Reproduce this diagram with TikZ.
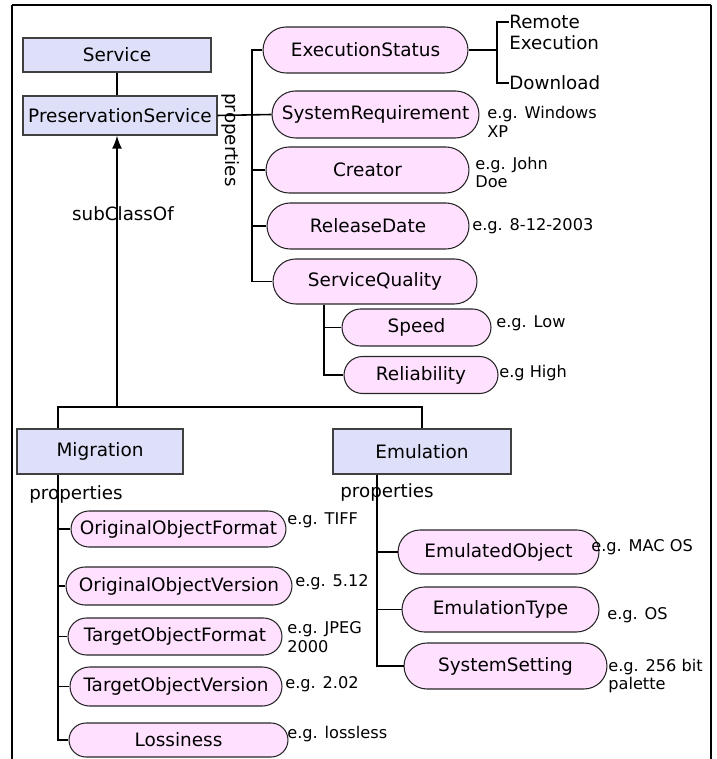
\documentclass[tikz,border=0pt]{standalone}
\usepackage{fontspec}
\setmainfont{DejaVu Sans}
\usetikzlibrary{shapes.misc,arrows.meta}

\definecolor{classfill}{RGB}{222,224,250}
\definecolor{propfill}{RGB}{255,224,255}

\tikzset{
	class/.style={shape=rectangle, draw=black!75, fill=classfill, line width=0.6pt, inner sep=0pt, font=\fontsize{10.5}{12.6}\selectfont},
	prop/.style={shape=rounded rectangle, draw=black!85, fill=propfill, line width=0.6pt, inner sep=0pt, font=\fontsize{10.5}{12.6}\selectfont},
	note/.style={inner sep=0pt, align=left, font=\fontsize{10.4}{12.2}\selectfont},
	eg/.style={anchor=west, inner sep=0pt, align=left, font=\fontsize{9.2}{10.4}\selectfont},
	link/.style={line width=0.9pt},
}

\begin{document}
\begin{tikzpicture}[x=0.02cm, y=-0.02cm]

	\useasboundingbox (0, 0) rectangle (716, 759);
	\draw[line width=1.4pt] (12, 5) -- (711, 5);
	\draw[line width=0.9pt] (12, 759) -- (12, 5) (711, 5) -- (711, 759);

	\node[class, minimum width=3.76cm, minimum height=0.68cm] (svc)  at (117, 55)    {Service};
	\node[class, minimum width=3.88cm, minimum height=0.78cm] (pres) at (120, 115.5) {PreservationService};
	\node[class, minimum width=3.32cm, minimum height=0.9cm]  (mig)  at (100, 451.5) {Migration};
	\node[class, minimum width=3.56cm, minimum height=0.9cm]  (emu)  at (422, 451.5) {Emulation};

	\node[prop, minimum width=4.1cm,  minimum height=0.92cm] (exec)    at (365.5, 50)  {ExecutionStatus};
	\node[prop, minimum width=4.14cm, minimum height=0.94cm] (sysreq)  at (375.5, 114.5) {SystemRequirement};
	\node[prop, minimum width=4.06cm, minimum height=0.92cm] (creator) at (367.5, 170) {Creator};
	\node[prop, minimum width=4.04cm, minimum height=0.92cm] (reldate) at (368, 226)   {ReleaseDate};
	\node[prop, minimum width=4.08cm, minimum height=0.9cm]  (quality) at (375, 281.5) {ServiceQuality};
	\node[prop, minimum width=2.98cm, minimum height=0.74cm] (speed)   at (416.5, 327.5) {Speed};
	\node[prop, minimum width=3.08cm, minimum height=0.74cm] (reliab)  at (421, 375)   {Reliability};

	\node[prop, minimum width=4.3cm,  minimum height=0.72cm] (origfmt) at (178.5, 529) {OriginalObjectFormat};
	\node[prop, minimum width=4.52cm, minimum height=0.76cm] (origver) at (179, 586)   {OriginalObjectVersion};
	\node[prop, minimum width=4.28cm, minimum height=0.74cm] (tgtfmt)  at (175, 636.5) {TargetObjectFormat};
	\node[prop, minimum width=4.24cm, minimum height=0.78cm] (tgtver)  at (176, 686.5) {TargetObjectVersion};
	\node[prop, minimum width=4.38cm, minimum height=0.68cm] (loss)    at (178.5, 740) {Lossiness};

	\node[prop, minimum width=4.02cm, minimum height=0.88cm] (emuobj)  at (498.5, 552) {EmulatedObject};
	\node[prop, minimum width=3.94cm, minimum height=0.9cm]  (emutype) at (500.5, 609.5) {EmulationType};
	\node[prop, minimum width=4.06cm, minimum height=0.92cm] (syset)   at (505.5, 666) {SystemSetting};

	\node[note, anchor=west] (remote)   at (509, 32.5) {Remote\\Execution};
	\node[note, anchor=west] (download) at (509, 83)   {Download};
	\node[note] (subcls)     at (123, 214) {subClassOf};
	\node[note, rotate=-90] (presprops) at (231, 140) {properties};
	\node[note] (migprops)   at (76, 494)  {properties};
	\node[note] (emuprops)   at (387, 492) {properties};

	\node[eg] (sysreqeg)  at (487, 122)   {e.g. Windows\\XP};
	\node[eg] (creatoreg) at (475, 172.5) {e.g. John\\Doe};
	\node[eg] (dateeg)    at (472, 226)   {e.g. 8-12-2003};
	\node[eg] (speedeg)   at (496, 323)   {e.g. Low};
	\node[eg] (reliabeg)  at (499, 373)   {e.g High};
	\node[eg] (origfmteg) at (287, 520)   {e.g. TIFF};
	\node[eg] (origvereg) at (295, 582)   {e.g. 5.12};
	\node[eg] (tgtfmteg)  at (287, 637)   {e.g. JPEG\\2000};
	\node[eg] (tgtvereg)  at (285, 684)   {e.g. 2.02};
	\node[eg] (losseg)    at (287, 734)   {e.g. lossless};
	\node[eg] (emuobjeg)  at (591, 547)   {e.g. MAC OS};
	\node[eg] (emutypeeg) at (607, 615)   {e.g. OS};
	\node[eg] (syseteg)   at (608, 676)   {e.g. 256 bit\\palette};

	\coordinate (ptrunk)  at (252, 150);
	\coordinate (xfork)   at (497, 50);
	\coordinate (qtrunk)  at (324, 340);
	\coordinate (subfork) at (117, 407);
	\coordinate (migtop)  at (58, 407);
	\coordinate (mtrunk)  at (58, 600);
	\coordinate (etrunk)  at (377, 600);

	\draw[link] (svc.south) -- (svc.south |- pres.north);
	\draw[link] (pres.east) -- (sysreq.west);
	\draw[link] (exec.west) -| (ptrunk) |- (quality.west);
	\draw[link] (ptrunk |- creator.west) -- (creator.west);
	\draw[link] (ptrunk |- reldate.west) -- (reldate.west);
	\draw[link] (exec.east) -- (xfork);
	\draw[link] ([yshift=0.21cm]remote.west) -| (xfork) |- (download.west);
	\draw[link] (qtrunk |- quality.south) |- (reliab.west);
	\draw[link] (qtrunk |- speed.west) -- (speed.west);

	\draw[link] (mig.north -| migtop) -- (migtop) -| (emu.north);
	\draw[-{Latex[length=0.26cm, width=0.2cm]}, line width=1.1pt] (subfork) -- (subfork |- pres.south);

	\draw[link] (mig.south -| mtrunk) |- (loss.west);
	\draw[link] (mtrunk |- origfmt.west) -- (origfmt.west);
	\draw[link] (mtrunk |- origver.west) -- (origver.west);
	\draw[link] (mtrunk |- tgtfmt.west) -- (tgtfmt.west);
	\draw[link] (mtrunk |- tgtver.west) -- (tgtver.west);

	\draw[link] (emu.south -| etrunk) |- (syset.west);
	\draw[link] (etrunk |- emuobj.west) -- (emuobj.west);
	\draw[link] (etrunk |- emutype.west) -- (emutype.west);

\end{tikzpicture}
\end{document}
